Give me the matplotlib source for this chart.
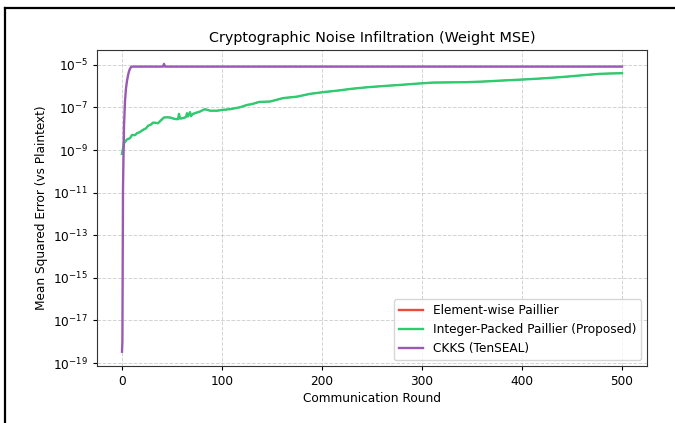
import matplotlib
matplotlib.use('Agg')
import matplotlib.pyplot as plt
from matplotlib.lines import Line2D
import numpy as np

# --- data (log10 of MSE) ---
green_rounds = [0, 2, 5, 8, 10, 13, 15, 18, 21, 24, 26, 29, 31, 34, 36, 39, 42,
                45, 48, 50, 53, 56, 57, 58, 61, 64, 65, 66, 68, 69, 71, 74, 78,
                81, 83, 86, 88, 92, 95, 101, 108, 118, 125, 130, 135, 137, 148,
                161, 175, 188, 201, 215, 230, 245, 262, 278, 295, 311, 328, 345,
                362, 378, 395, 411, 428, 445, 462, 478, 490, 500]
green_log = [-9.18, -8.68, -8.50, -8.44, -8.29, -8.30, -8.21, -8.15, -8.05,
             -7.98, -7.86, -7.80, -7.71, -7.72, -7.74, -7.60, -7.47, -7.46,
             -7.47, -7.50, -7.54, -7.55, -7.30, -7.52, -7.50, -7.45, -7.27,
             -7.42, -7.22, -7.40, -7.30, -7.25, -7.19, -7.12, -7.08, -7.12,
             -7.15, -7.15, -7.15, -7.11, -7.08, -6.99, -6.88, -6.84, -6.77,
             -6.74, -6.72, -6.56, -6.49, -6.36, -6.28, -6.21, -6.12, -6.05,
             -5.99, -5.94, -5.88, -5.83, -5.82, -5.81, -5.78, -5.74, -5.70,
             -5.66, -5.61, -5.55, -5.48, -5.42, -5.40, -5.39]

ckks_rounds = [0, 0.4, 1, 2, 3, 4, 5, 6, 7, 8, 9, 10, 41, 42, 43, 500]
ckks_log = [-18.47, -18.0, -10.8, -7.9, -6.7, -6.1, -5.75, -5.5, -5.3, -5.18,
            -5.1, -5.08, -5.08, -4.95, -5.08, -5.08]

# element-wise Paillier sits exactly under the packed variant
red_rounds = green_rounds
red_log = green_log

FS = 8.7
plt.rcParams.update({
    'font.family': 'DejaVu Sans', 'font.size': FS,
    'axes.edgecolor': '#333333',
})

fig = plt.figure(figsize=(6.75, 4.23), dpi=100)
ax = fig.add_axes([97 / 675, 1 - 366 / 423, 550 / 675, 316 / 423])

# drawn thinner so the green line hides it completely
ax.plot(red_rounds, 10 ** np.array(red_log), color='#e74c3c', lw=1.0)
ax.plot(green_rounds, 10 ** np.array(green_log), color='#2ecc71', lw=1.7)
ax.plot(ckks_rounds, 10 ** np.array(ckks_log), color='#9b59b6', lw=1.7)

ax.set_yscale('log')
ax.set_xlim(-25, 525)
ax.set_ylim(10 ** -19.14, 10 ** -4.30)
ax.set_yticks([10.0 ** e for e in range(-19, -4, 2)])
ax.yaxis.set_minor_locator(matplotlib.ticker.NullLocator())
ax.set_xticks([0, 100, 200, 300, 400, 500])

ax.set_title('Cryptographic Noise Infiltration (Weight MSE)', fontsize=10.4, pad=6)
ax.set_xlabel('Communication Round', fontsize=FS, labelpad=3)
ax.set_ylabel('Mean Squared Error (vs Plaintext)', fontsize=FS)
ax.grid(True, linestyle='--', color='#b0b0b0', alpha=0.55, linewidth=0.7)
ax.tick_params(labelsize=FS, length=3)

handles = [Line2D([], [], color='#e74c3c', lw=1.7),
           Line2D([], [], color='#2ecc71', lw=1.7),
           Line2D([], [], color='#9b59b6', lw=1.7)]
labels = ['Element-wise Paillier', 'Integer-Packed Paillier (Proposed)', 'CKKS (TenSEAL)']
ax.legend(handles, labels, loc='lower right', fontsize=FS, framealpha=0.8,
          edgecolor='#cccccc')

# screenshot frame
fig.add_artist(Line2D([5 / 675, 5 / 675], [0, 1 - 8 / 423], color='black', lw=1.6))
fig.add_artist(Line2D([5 / 675, 1], [1 - 8 / 423, 1 - 8 / 423], color='black', lw=1.6))

fig.savefig('out.png', dpi=100)
